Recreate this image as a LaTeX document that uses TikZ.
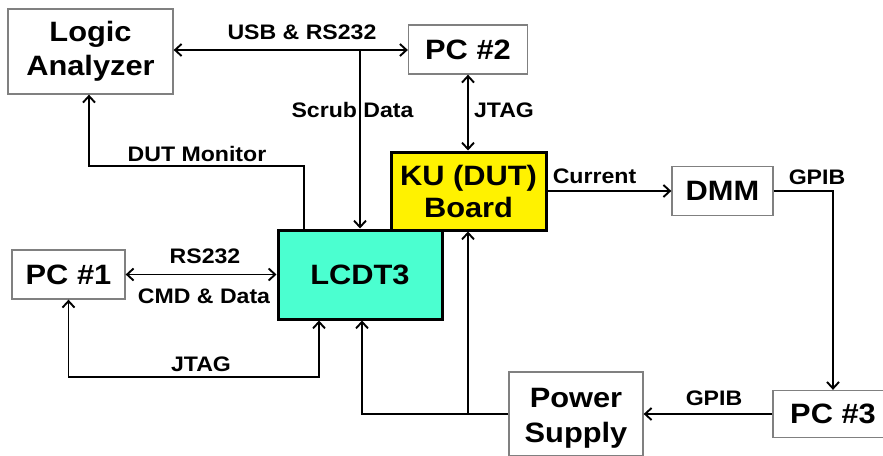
\documentclass[tikz,border=0pt]{standalone}
\usepackage{fontspec}
\setmainfont{Liberation Sans}[FakeStretch=1.1]
\usetikzlibrary{arrows.meta}
\definecolor{teal3}{RGB}{75,255,208}
\definecolor{boxgray}{RGB}{128,128,128}
\tikzset{
  wbox/.style={draw=boxgray, line width=1.3pt, fill=white, inner sep=0pt, align=center,
    font=\fontsize{28}{34}\selectfont\bfseries},
  kbox/.style={draw=black, line width=3pt, inner sep=0pt, align=center,
    font=\fontsize{28}{32}\selectfont\bfseries},
  btxt/.style={inner sep=0pt, align=center, font=\fontsize{28}{35}\selectfont\bfseries},
  con/.style={line width=1.7pt},
  lbl/.style={anchor=base, inner sep=0pt, font=\fontsize{21}{24}\selectfont\bfseries},
  tip/.style={arrows={-Straight Barb[length=6.5pt,width=12pt,line width=1.9pt]}},
  both/.style={arrows={Straight Barb[length=6.5pt,width=12pt,line width=1.9pt]-Straight Barb[length=6.5pt,width=12pt,line width=1.9pt]}}
}
\begin{document}
\begin{tikzpicture}[x=1pt,y=-1pt]
\useasboundingbox (0,0) rectangle (883,455);
\fill[white] (0,0) rectangle (883,455);
% boxes
\node[wbox, minimum width=165pt, minimum height=85pt] (LA) at (90.5,51.5) {Logic\\Analyzer};
\node[wbox, minimum width=119pt, minimum height=49pt] (PC2) at (468,49.5) {PC \#2};
\node[kbox, fill=yellow, minimum width=155pt, minimum height=78pt] (KU) at (468.5,191) {KU (DUT)\\Board};
\node[wbox, minimum width=101pt, minimum height=49pt] (DMM) at (722.5,191) {DMM};
\node[kbox, fill=teal3, minimum width=164pt, minimum height=89pt] (LC) at (360,274.5) {LCDT3};
\node[wbox, minimum width=113pt, minimum height=49pt] (PC1) at (68.5,274.5) {PC \#1};
\node[wbox, minimum width=134pt, minimum height=84pt] (PS) at (576,414) {};
\node[btxt] (PStext) at (576,418) {Power\\Supply};
\node[wbox, minimum width=120pt, minimum height=47pt] (PC3) at (833,414) {PC \#3};
% helper coordinates
\coordinate (sj) at (360,50);
\coordinate (mon) at (200,166);
\coordinate (jt) at (200,377);
\coordinate (br) at (468,414);
% connectors
\draw[con, both] (LA.east |- sj) -- (PC2.west |- sj);
\draw[con, tip] (sj) -- (LC.north);
\draw[con, tip] ([xshift=-56pt]LC.north) |- (mon) -| ([xshift=-1.5pt]LA.south);
\draw[con, both] (PC2.south) -- (PC2.south |- KU.north);
\draw[con, tip] (KU.east) -- (DMM.west);
\draw[con, tip] (DMM.east) -| (PC3.north);
\draw[con, both] (PC1.east) -- (LC.west);
\draw[con, both] (PC1.south) |- (jt) -| ([xshift=-41pt]LC.south);
\draw[con, tip] (PS.west) -| ([xshift=2pt]LC.south);
\draw[con, tip] (br) -- (br |- KU.south);
\draw[con, tip] (PC3.west) -- (PS.east);
% labels
\node[lbl] (l1) at (302,39) {USB \& RS232};
\node[lbl] (l2) at (352.5,117) {Scrub Data};
\node[lbl] (l3) at (504,117) {JTAG};
\node[lbl] (l4) at (197,161) {DUT Monitor};
\node[lbl] (l5) at (594.5,183) {Current};
\node[lbl] (l6) at (817,184) {GPIB};
\node[lbl] (l7) at (205,263) {RS232};
\node[lbl] (l8) at (204,303) {CMD \& Data};
\node[lbl] (l9) at (201,371) {JTAG};
\node[lbl] (l10) at (714,405) {GPIB};
\end{tikzpicture}
\end{document}
